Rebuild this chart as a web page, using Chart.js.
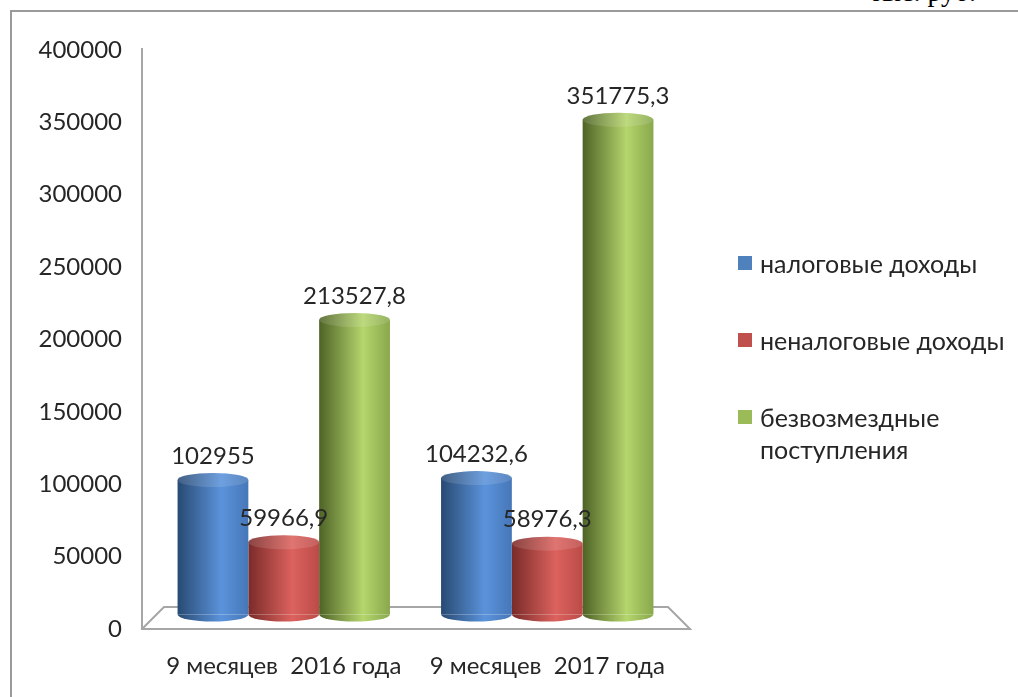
<!DOCTYPE html>
<html lang="ru">
<head>
<meta charset="utf-8">
<script src="https://cdn.jsdelivr.net/npm/chart.js@4.4.1/dist/chart.umd.min.js"></script>
<style>
  html, body { margin: 0; padding: 0; background: #fff; }
  #wrap { position: relative; width: 1018px; height: 697px; overflow: hidden; }
  #frame { position: absolute; left: 10px; top: 10px; right: -5px; bottom: -5px;
           border-left: 2px solid #9a9a9a; border-top: 2px solid #9a9a9a; }
  #unit { position: absolute; right: 42px; top: -24px; font: 28px "Liberation Serif", serif; color: #000; }
  #legend { position: absolute; left: 738px; top: 247px; font: 25px Lato, sans-serif; color: #262626; }
  .item { position: relative; padding-left: 22px; width: 260px; line-height: 32px; margin-bottom: 45px; }
  .item span.box { position: absolute; left: 0; top: 9px; width: 14px; height: 14px; }
  canvas { position: absolute; left: 0; top: 0; }
</style>
</head>
<body>
<div id="wrap">
  <div id="frame"></div>
  <div id="unit">тыс. руб.</div>
  <canvas id="chart" width="1018" height="697"></canvas>
  <div id="legend"></div>
</div>
<script>
// data
const categories = ['9 месяцев  2016 года', '9 месяцев  2017 года'];
const seriesNames = ['налоговые доходы', 'неналоговые доходы', 'безвозмездные поступления'];
const taxIncome = [102955, 104232.6];
const nonTaxIncome = [59966.9, 58976.3];
const grants = [213527.8, 351775.3];
const yMax = 400000;
const yStep = 50000;

const colors = ['#4F81BD', '#C0504D', '#9BBB59'];
const shades = [
  ['#284a73', '#5b93db', '#4677b8'],
  ['#7a2b29', '#dc625e', '#bb4b48'],
  ['#4e6326', '#b5d56d', '#88a84c']
];

function cylGradient(ctx, x0, x1, s) {
  const g = ctx.createLinearGradient(x0, 0, x1, 0);
  g.addColorStop(0, s[0]);
  g.addColorStop(0.62, s[1]);
  g.addColorStop(1, s[2]);
  return g;
}

// floor + axis line, drawn before bars
const floorPlugin = {
  id: 'floor',
  beforeDatasetsDraw(chart) {
    const { ctx, chartArea: a } = chart;
    const d = 22;
    const l = a.left - 10, r = a.right + 11;
    ctx.save();
    ctx.strokeStyle = '#a6a6a6';
    ctx.lineWidth = 2;
    ctx.beginPath();
    ctx.moveTo(l, a.top - 2);
    ctx.lineTo(l, a.bottom);
    ctx.lineTo(r, a.bottom);
    ctx.lineTo(r - d, a.bottom - d);
    ctx.lineTo(l + d, a.bottom - d);
    ctx.lineTo(l, a.bottom);
    ctx.stroke();
    ctx.restore();
  }
};

// cylinder look: gradient body, round bottom, top cap
const cylinderPlugin = {
  id: 'cylinder',
  beforeDatasetDraw(chart, args) {
    const s = shades[args.index];
    args.meta.data.forEach(bar => {
      const x0 = bar.x - bar.width / 2, x1 = bar.x + bar.width / 2;
      bar.options = Object.assign({}, bar.options, { backgroundColor: cylGradient(chart.ctx, x0, x1, s) });
    });
  },
  afterDatasetDraw(chart, args) {
    const { ctx } = chart;
    const s = shades[args.index];
    const ry = 7;
    args.meta.data.forEach(bar => {
      const rx = bar.width / 2;
      const x0 = bar.x - rx, x1 = bar.x + rx;
      ctx.save();
      ctx.fillStyle = cylGradient(ctx, x0, x1, s);
      ctx.beginPath();
      ctx.ellipse(bar.x, bar.base, rx, ry, 0, 0, Math.PI);
      ctx.fill();
      ctx.beginPath();
      ctx.ellipse(bar.x, bar.y, rx, ry, 0, 0, Math.PI * 2);
      ctx.fill();
      ctx.fillStyle = 'rgba(255,255,255,0.12)';
      ctx.fill();
      ctx.restore();
    });
  }
};

// value labels above bars
const valueLabels = {
  id: 'valueLabels',
  afterDatasetsDraw(chart) {
    const { ctx } = chart;
    ctx.save();
    ctx.font = '24px Lato, sans-serif';
    ctx.fillStyle = '#262626';
    ctx.textAlign = 'center';
    ctx.textBaseline = 'middle';
    chart.data.datasets.forEach((ds, i) => {
      chart.getDatasetMeta(i).data.forEach((bar, j) => {
        const txt = String(ds.data[j]).replace('.', ',');
        ctx.fillText(txt, bar.x, bar.y - 24);
      });
    });
    ctx.restore();
  }
};

const series = [taxIncome, nonTaxIncome, grants];
const chart = new Chart(document.getElementById('chart'), {
  type: 'bar',
  data: {
    labels: categories,
    datasets: series.map((d, i) => ({
      label: seriesNames[i],
      data: d,
      backgroundColor: colors[i],
      borderWidth: 0,
      base: 10000,
      categoryPercentage: 0.806,
      barPercentage: 1
    }))
  },
  options: {
    responsive: false,
    animation: false,
    layout: { padding: { left: 0, right: 339, top: 50, bottom: 0 } },
    plugins: { legend: { display: false }, tooltip: { enabled: false } },
    scales: {
      x: {
        grid: { display: false, drawTicks: false },
        border: { display: false },
        ticks: { color: '#262626', font: { family: 'Lato', size: 24 }, padding: 23 },
        afterFit(scale) { scale.height = 68; }
      },
      y: {
        min: 0,
        max: yMax,
        grid: { display: false, drawTicks: false },
        border: { display: false },
        ticks: {
          stepSize: yStep, color: '#262626', font: { family: 'Lato', size: 24 }, padding: 30,
          callback: v => String(v)
        },
        afterFit(scale) { scale.width = 152; }
      }
    }
  },
  plugins: [floorPlugin, cylinderPlugin, valueLabels]
});

// legend
const legend = document.getElementById('legend');
seriesNames.forEach((name, i) => {
  const item = document.createElement('div');
  item.className = 'item';
  const box = document.createElement('span');
  box.className = 'box';
  box.style.background = colors[i];
  item.appendChild(box);
  item.appendChild(document.createTextNode(name));
  legend.appendChild(item);
});
</script>
</body>
</html>
